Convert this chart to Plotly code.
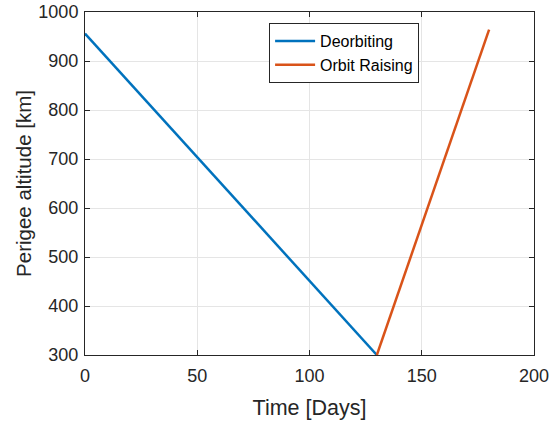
import plotly.graph_objects as go

deorbit_days = [0, 130]
deorbit_alt = [956, 300]
raise_days = [130, 180]
raise_alt = [300, 964]
x_ticks = [0, 50, 100, 150, 200]
y_ticks = [300, 400, 500, 600, 700, 800, 900, 1000]

fig = go.Figure()
fig.add_trace(go.Scatter(x=deorbit_days, y=deorbit_alt, mode="lines", name="Deorbiting",
                         line=dict(color="#0072BD", width=2.5)))
fig.add_trace(go.Scatter(x=raise_days, y=raise_alt, mode="lines", name="Orbit Raising",
                         line=dict(color="#D95319", width=2.5)))

axis_common = dict(showline=True, linecolor="#262626", linewidth=1, mirror="ticks",
                   ticks="inside", ticklen=5, tickcolor="#262626",
                   showgrid=True, gridcolor="#E5E5E5", gridwidth=1, zeroline=False,
                   automargin=False, ticklabeloverflow="allow",
                   tickfont=dict(size=18, color="#262626"))

fig.update_layout(
    width=549, height=422,
    margin=dict(l=85, r=15, t=12, b=67),
    plot_bgcolor="white", paper_bgcolor="white",
    font=dict(family="Liberation Sans, Arial, sans-serif", color="#262626"),
    xaxis=dict(range=[0, 200], tickvals=x_ticks, ticklabelstandoff=4,
               title=dict(text="Time [Days]", font=dict(size=21.5), standoff=15), **axis_common),
    yaxis=dict(range=[300, 1000], tickvals=y_ticks, ticklabelstandoff=2,
               title=dict(text="Perigee altitude [km]", font=dict(size=20.5), standoff=1), **axis_common),
    legend=dict(x=0.41, y=0.968, xanchor="left", yanchor="top", bgcolor="white",
                bordercolor="#262626", borderwidth=1, font=dict(size=16, color="black"),
                tracegroupgap=0, itemwidth=40),
    showlegend=True,
)
fig.write_html("out.html")
